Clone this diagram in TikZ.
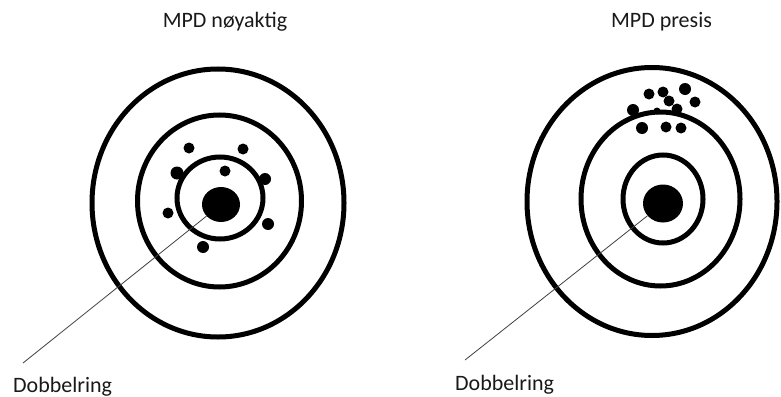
\documentclass[tikz,border=0pt]{standalone}
\usepackage{fontspec}
\setmainfont{Carlito}
\usetikzlibrary{shapes.geometric}
\tikzset{
  ring/.style={draw=black, line width=5pt},
  bull/.style={ellipse, fill=black, inner sep=0pt, minimum width=38pt, minimum height=35pt},
  hit/.style={fill=black},
  leader/.style={draw=black!75, line width=0.8pt},
  lbl/.style={font=\fontsize{22pt}{26pt}\selectfont, text=black!90, inner sep=0pt},
}
\begin{document}
\begin{tikzpicture}[x=1pt, y=-1pt]
\useasboundingbox (0,0) rectangle (781,396);
% titles
\node[lbl, anchor=base] (titleL) at (225,28) {MPD nøyaktig};
\node[lbl, anchor=base] (titleR) at (661.5,28) {MPD presis};
% left target
\draw[ring] (218,203) ellipse [x radius=126, y radius=134];
\draw[ring] (219.5,201) ellipse [x radius=82, y radius=86];
\draw[ring] (220,198) ellipse [x radius=43, y radius=41];
\coordinate (endL) at (23,363);
\node[bull] (bullL) at (221,204.5) {};
\draw[leader] (bullL) -- (endL);
\node[lbl, anchor=base west] (dobL) at (13,392) {Dobbelring};
\foreach \p/\r in {{(189,148)}/5.5, {(243,149)}/5.5, {(225,171)}/5.5, {(177,173)}/6.5,
                   {(265,179)}/6, {(168,213)}/5.5, {(268,224)}/6, {(203,247)}/6}
  \fill[hit] \p circle (\r);
% right target
\draw[ring] (652,201.5) ellipse [x radius=125, y radius=134];
\draw[ring] (660.5,199) ellipse [x radius=79.5, y radius=87];
\draw[ring] (663,199) ellipse [x radius=40, y radius=44];
\coordinate (endR) at (465,360);
\node[bull, minimum width=40pt, minimum height=38pt] (bullR) at (663,203.5) {};
\draw[leader] (bullR) -- (endR);
\node[lbl, anchor=base west] (dobR) at (455,390) {Dobbelring};
\foreach \p/\r in {{(649,94)}/5.5, {(663,92)}/5.5, {(669,101)}/5.5, {(685,89)}/6,
                   {(695,102)}/5.5, {(633,110)}/6, {(657,111)}/3.5, {(677,109)}/5.5,
                   {(642,128)}/6, {(666,127)}/5.5, {(681,128)}/5.5}
  \fill[hit] \p circle (\r);
\end{tikzpicture}
\end{document}
